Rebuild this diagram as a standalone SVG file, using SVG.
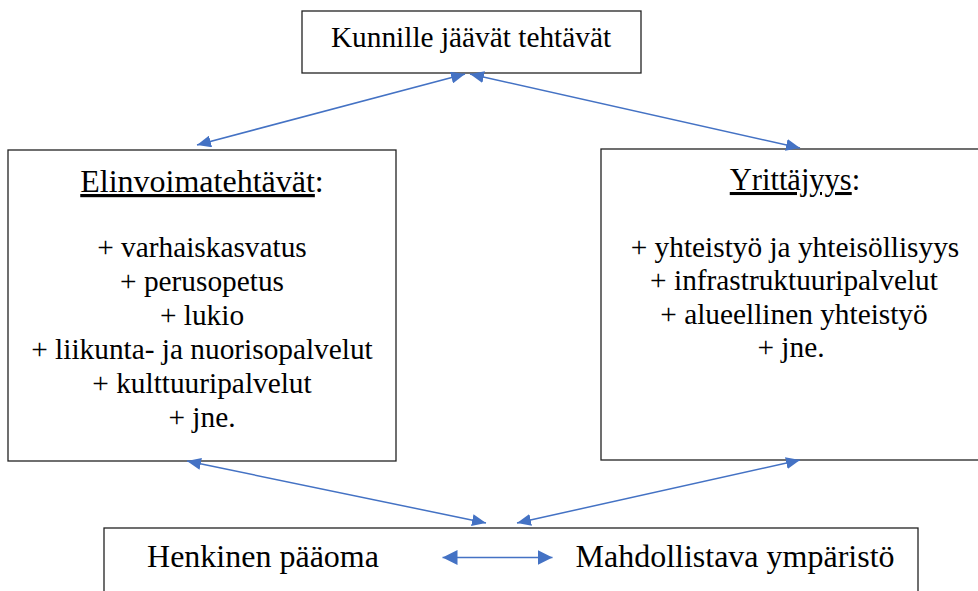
<svg xmlns="http://www.w3.org/2000/svg" width="978" height="591" viewBox="0 0 978 591">
<style>
.box{fill:#fff;stroke:#222;stroke-width:1.3}
.t{font-family:"Liberation Serif","Times New Roman",serif;font-size:29.33px;fill:#000;text-anchor:middle}
.h{font-size:32px}
.c{stroke:#4472C4;stroke-width:1.5;fill:none;marker-start:url(#ah);marker-end:url(#ah)}
</style>
<defs>
<marker id="ah" viewBox="0 0 14 12" refX="14" refY="6" markerWidth="14" markerHeight="12" markerUnits="userSpaceOnUse" orient="auto-start-reverse">
<path d="M0,0 L14,6 L0,12 z" fill="#4472C4"/>
</marker>
<marker id="ah2" viewBox="0 0 15 15" refX="15" refY="7.5" markerWidth="15" markerHeight="15" markerUnits="userSpaceOnUse" orient="auto-start-reverse">
<path d="M0,0 L15,7.5 L0,15 z" fill="#4472C4"/>
</marker>
</defs>
<g id="top">
<rect class="box" x="302" y="11" width="339" height="62"/>
<text class="t" x="471" y="47">Kunnille jäävät tehtävät</text>
</g>
<g id="left">
<rect class="box" x="8" y="150" width="388" height="311"/>
<text class="t h" x="202" y="192"><tspan text-decoration="underline">Elinvoimatehtävät</tspan>:</text>
<text class="t" x="202" y="257">+ varhaiskasvatus</text>
<text class="t" x="202" y="291">+ perusopetus</text>
<text class="t" x="202" y="325">+ lukio</text>
<text class="t" x="202" y="359">+ liikunta- ja nuorisopalvelut</text>
<text class="t" x="202" y="393">+ kulttuuripalvelut</text>
<text class="t" x="202" y="427">+ jne.</text>
</g>
<g id="right">
<rect class="box" x="601" y="149" width="400" height="311"/>
<text class="t" x="795" y="190" style="font-size:30.5px"><tspan text-decoration="underline">Yrittäjyys</tspan>:</text>
<text class="t" x="795" y="257">+ yhteistyö ja yhteisöllisyys</text>
<text class="t" x="794" y="290">+ infrastruktuuripalvelut</text>
<text class="t" x="794" y="323.5">+ alueellinen yhteistyö</text>
<text class="t" x="791" y="357">+ jne.</text>
</g>
<g id="bottom">
<rect class="box" x="104" y="528" width="814" height="80"/>
<text class="t h" x="263" y="567">Henkinen pääoma</text>
<text class="t h" x="735" y="567">Mahdollistava ympäristö</text>
</g>
<g id="connectors">
<line class="c" x1="465" y1="74" x2="197" y2="145"/>
<line class="c" x1="470" y1="74" x2="800" y2="148"/>
<line class="c" x1="187" y1="461" x2="486" y2="523"/>
<line class="c" x1="517" y1="523" x2="800" y2="460"/>
<line class="c" x1="442.5" y1="557.5" x2="552.5" y2="557.5" style="marker-start:url(#ah2);marker-end:url(#ah2)"/>
</g>
</svg>
